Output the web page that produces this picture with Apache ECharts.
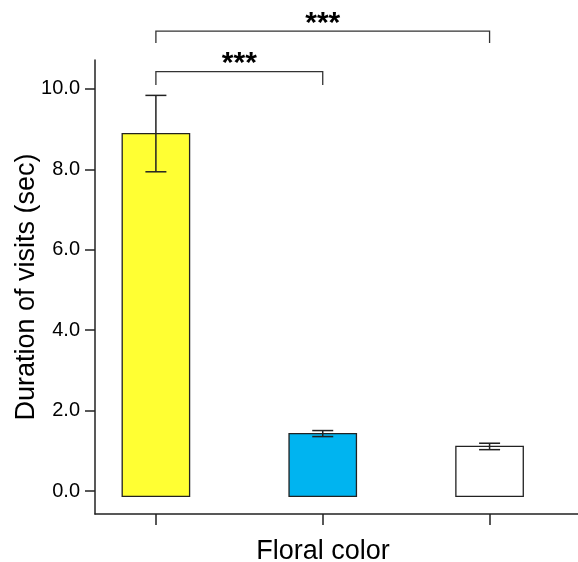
<!DOCTYPE html>
<html>
<head>
<meta charset="utf-8">
<script src="https://cdn.jsdelivr.net/npm/echarts@6/dist/echarts.min.js"></script>
<style>
html,body{margin:0;padding:0;background:#fff;}
#chart{width:578px;height:562px;}
</style>
</head>
<body>
<div id="chart"></div>
<script>
// ---- data ----
const categories = ['Yellow', 'Blue', 'White'];
const means = [8.89, 1.43, 1.11];
const errors = [0.95, 0.075, 0.08];
const barBase = -0.13;
const yTicks = [0, 2, 4, 6, 8, 10];
const sigFrom = [1, 1];
const sigTo = [2, 3];
const sigLevel = [10.43, 11.44];
const sigDrop = [10.1, 11.14];
const sigLabel = ['***', '***'];

// ---- styles ----
const barColors = ['#FFFF33', '#00B4F0', '#FFFFFF'];
const FONT = '"Liberation Sans", Arial, Helvetica, sans-serif';
const barWidthUnits = 0.404;

const chart = echarts.init(document.getElementById('chart'));

const barData = means.map((m, i) => [i + 1, m]);
const errData = means.map((m, i) => [i + 1, m, errors[i]]);
const sigData = sigFrom.map((f, i) => [f, sigTo[i], sigLevel[i], sigDrop[i]]);

chart.setOption({
  animation: false,
  grid: { left: 95, right: 0, top: 60, bottom: 48, containLabel: false, outerBoundsMode: 'none' },
  xAxis: {
    type: 'value',
    min: 0.635,
    max: 3.53,
    name: 'Floral color',
    nameLocation: 'middle',
    nameGap: 24,
    nameMoveOverlap: false,
    nameTextStyle: { fontFamily: FONT, fontSize: 27, color: '#000', padding: [0, 27, 0, 0] },
    axisLine: { show: true, onZero: false, lineStyle: { color: '#222', width: 1.5 } },
    axisTick: { show: true, length: 11, lineStyle: { color: '#222', width: 1.5 }, customValues: categories.map((c, i) => i + 1) },
    axisLabel: { show: false },
    splitLine: { show: false }
  },
  yAxis: {
    type: 'value',
    min: -0.57,
    max: 10.72,
    name: 'Duration of visits (sec)',
    nameLocation: 'middle',
    nameGap: 55,
    nameMoveOverlap: false,
    nameTextStyle: { fontFamily: FONT, fontSize: 27, color: '#000' },
    axisLine: { show: true, onZero: false, lineStyle: { color: '#222', width: 1.5 } },
    axisTick: { show: true, length: 10, lineStyle: { color: '#222', width: 1.5 }, customValues: yTicks },
    axisLabel: {
      show: true, margin: 15, fontFamily: FONT, fontSize: 20, color: '#000',
      customValues: yTicks,
      formatter: v => Number(v).toFixed(1)
    },
    splitLine: { show: false }
  },
  series: [
    {
      type: 'custom',
      name: 'bars',
      data: barData,
      renderItem: function (params, api) {
        const x = api.value(0), v = api.value(1);
        const base = api.coord([x, barBase]);
        const top = api.coord([x, v]);
        const w = api.size([barWidthUnits, 0])[0];
        return {
          type: 'rect',
          shape: { x: base[0] - w / 2, y: top[1], width: w, height: base[1] - top[1] },
          style: { fill: barColors[params.dataIndex], stroke: '#222', lineWidth: 1.3 }
        };
      }
    },
    {
      type: 'custom',
      name: 'errors',
      data: errData,
      renderItem: function (params, api) {
        const x = api.value(0), m = api.value(1), e = api.value(2);
        const hi = api.coord([x, m + e]);
        const lo = api.coord([x, m - e]);
        const cap = 10.5;
        const st = { stroke: '#222', lineWidth: 1.5 };
        return {
          type: 'group',
          children: [
            { type: 'line', shape: { x1: hi[0], y1: hi[1], x2: lo[0], y2: lo[1] }, style: st },
            { type: 'line', shape: { x1: hi[0] - cap, y1: hi[1], x2: hi[0] + cap, y2: hi[1] }, style: st },
            { type: 'line', shape: { x1: lo[0] - cap, y1: lo[1], x2: lo[0] + cap, y2: lo[1] }, style: st }
          ]
        };
      }
    },
    {
      type: 'custom',
      name: 'significance',
      clip: false,
      data: sigData,
      renderItem: function (params, api) {
        const a = api.value(0), b = api.value(1), lvl = api.value(2), drop = api.value(3);
        const pA = api.coord([a, lvl]);
        const pB = api.coord([b, lvl]);
        const dA = api.coord([a, drop]);
        const dB = api.coord([b, drop]);
        const st = { stroke: '#333', lineWidth: 1.3, fill: null };
        return {
          type: 'group',
          children: [
            { type: 'polyline', shape: { points: [[dA[0], dA[1]], [pA[0], pA[1]], [pB[0], pB[1]], [dB[0], dB[1]]] }, style: st },
            {
              type: 'text',
              style: {
                text: sigLabel[params.dataIndex],
                x: (pA[0] + pB[0]) / 2,
                y: pA[1] - 7.7,
                textAlign: 'center',
                textVerticalAlign: 'middle',
                font: 'bold 30px ' + FONT,
                fill: '#000'
              }
            }
          ]
        };
      }
    }
  ]
});
</script>
</body>
</html>
